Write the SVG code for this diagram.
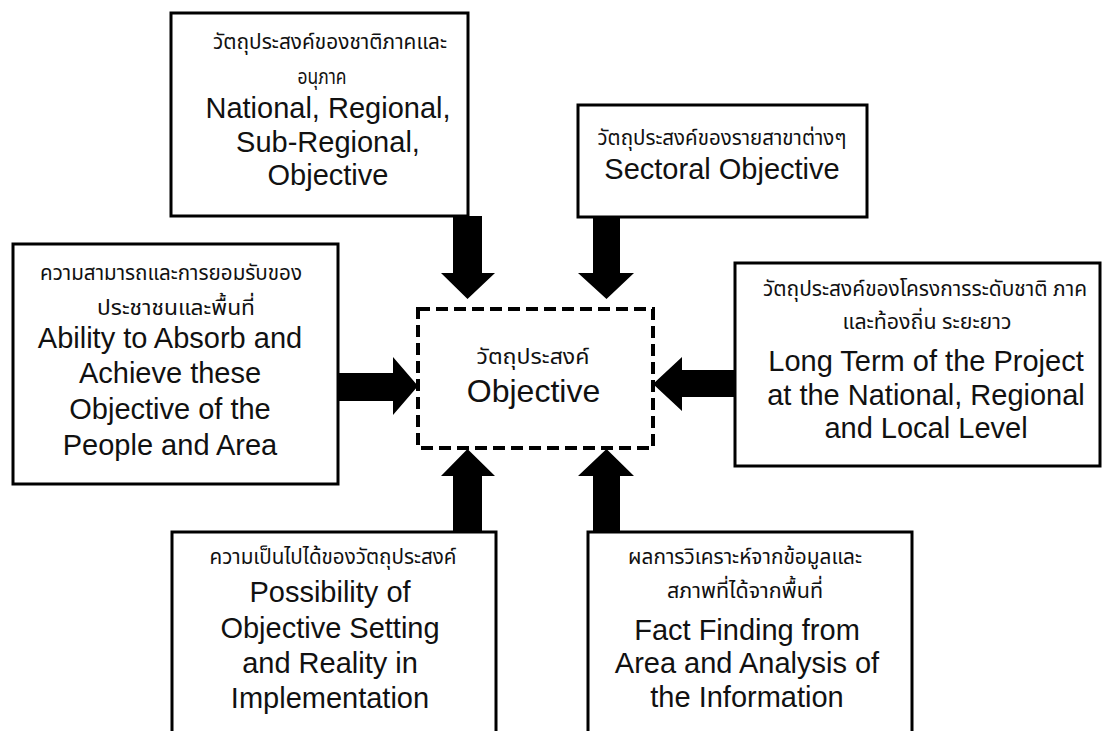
<svg xmlns="http://www.w3.org/2000/svg" width="1108" height="731" viewBox="0 0 1108 731">
<style>
.box{fill:#fff;stroke:#000;stroke-width:3}
.center{fill:#fff;stroke:#000;stroke-width:4;stroke-dasharray:12 6}
.en{font-family:"Liberation Sans",Arial,sans-serif;font-size:29px;fill:#111;text-anchor:middle}
.enc{font-family:"Liberation Sans",Arial,sans-serif;font-size:32px;fill:#111;text-anchor:middle}
.th{font-family:"Noto Sans Thai","Noto Sans Thai Looped","Noto Sans","DejaVu Sans",sans-serif;font-size:22px;fill:#111;text-anchor:middle}
.arrow{fill:#000}
</style>
<rect width="1108" height="731" fill="#fff"/>
<g id="connectors">
<polygon class="arrow" points="453,216 482,216 482,273 495,273 467.5,299 441,273 453,273"/>
<polygon class="arrow" points="593,217 620,217 620,273 634,273 606.5,299 578,273 593,273"/>
<polygon class="arrow" points="338,373 393,373 393,357 418,386 393,415 393,401 338,401"/>
<polygon class="arrow" points="735,370 682,370 682,357 653,384 682,411 682,397 735,397"/>
<polygon class="arrow" points="453,531 453,476 441,476 467.5,449 495,476 482,476 482,531"/>
<polygon class="arrow" points="593,531 593,476 578,476 606.5,449 634,476 620,476 620,531"/>
</g>
<g id="node-national">
<rect class="box" x="171" y="13" width="297" height="203"/>
<text class="th" x="330" y="49" textLength="234" lengthAdjust="spacingAndGlyphs">วัตถุประสงค์ของชาติภาคและ</text>
<text class="th" x="322" y="84" textLength="49" lengthAdjust="spacingAndGlyphs">อนุภาค</text>
<text class="en" x="328" y="118">National, Regional,</text>
<text class="en" x="328" y="152">Sub-Regional,</text>
<text class="en" x="328" y="185">Objective</text>
</g>
<g id="node-sectoral">
<rect class="box" x="578" y="105" width="289" height="112"/>
<text class="th" x="722" y="145" textLength="249" lengthAdjust="spacingAndGlyphs">วัตถุประสงค์ของรายสาขาต่างๆ</text>
<text class="en" x="722" y="179">Sectoral Objective</text>
</g>
<g id="node-ability">
<rect class="box" x="13" y="244" width="325" height="240"/>
<text class="th" x="171" y="280" textLength="262" lengthAdjust="spacingAndGlyphs">ความสามารถและการยอมรับของ</text>
<text class="th" x="176" y="315" textLength="158" lengthAdjust="spacingAndGlyphs">ประชาชนและพื้นที่</text>
<text class="en" x="170" y="348">Ability to Absorb and</text>
<text class="en" x="170" y="383">Achieve these</text>
<text class="en" x="170" y="419">Objective of the</text>
<text class="en" x="170" y="455">People and Area</text>
</g>
<g id="node-objective">
<rect class="center" x="418" y="309" width="235" height="139"/>
<text class="th" x="533" y="364" textLength="113" lengthAdjust="spacingAndGlyphs">วัตถุประสงค์</text>
<text class="enc" x="533.5" y="402">Objective</text>
</g>
<g id="node-longterm">
<rect class="box" x="735" y="263" width="365" height="203"/>
<text class="th" x="925" y="296" textLength="324" lengthAdjust="spacingAndGlyphs">วัตถุประสงค์ของโครงการระดับชาติ ภาค</text>
<text class="th" x="927" y="329" textLength="169" lengthAdjust="spacingAndGlyphs">และท้องถิ่น ระยะยาว</text>
<text class="en" x="926" y="371">Long Term of the Project</text>
<text class="en" x="926" y="405">at the National, Regional</text>
<text class="en" x="926" y="438">and Local Level</text>
</g>
<g id="node-possibility">
<rect class="box" x="172" y="532" width="324" height="215"/>
<text class="th" x="333" y="564" textLength="247" lengthAdjust="spacingAndGlyphs">ความเป็นไปได้ของวัตถุประสงค์</text>
<text class="en" x="330" y="602">Possibility of</text>
<text class="en" x="330" y="638">Objective Setting</text>
<text class="en" x="330" y="673">and Reality in</text>
<text class="en" x="330" y="708">Implementation</text>
</g>
<g id="node-fact">
<rect class="box" x="588" y="532" width="324" height="215"/>
<text class="th" x="745" y="564" textLength="234" lengthAdjust="spacingAndGlyphs">ผลการวิเคราะห์จากข้อมูลและ</text>
<text class="th" x="745" y="598" textLength="156" lengthAdjust="spacingAndGlyphs">สภาพที่ได้จากพื้นที่</text>
<text class="en" x="747" y="640">Fact Finding from</text>
<text class="en" x="747" y="673">Area and Analysis of</text>
<text class="en" x="747" y="707">the Information</text>
</g>
</svg>
